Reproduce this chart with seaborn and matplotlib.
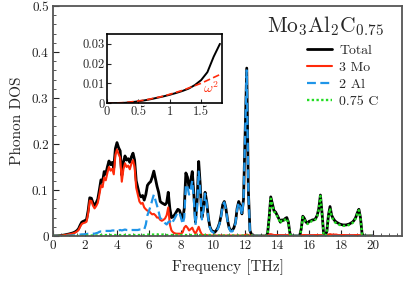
import numpy as np
import matplotlib
matplotlib.use("Agg")
import matplotlib.pyplot as plt
import seaborn as sns
from matplotlib.ticker import MultipleLocator, FixedLocator

# ---------------- data ----------------
freq = np.round(np.arange(0, 201) * 0.1, 1)  # THz grid

total = [
    0, 0.00002, 0.0001, 0.0003, 0.0006, 0.0010, 0.0015, 0.0021, 0.0028, 0.0035,
    0.0043, 0.0052, 0.0062, 0.0074, 0.0092, 0.0117, 0.0157, 0.0235, 0.0300, 0.0320,
    0.0335, 0.036, 0.055, 0.083, 0.082, 0.072, 0.066, 0.072, 0.080, 0.100,
    0.122, 0.118, 0.140, 0.134, 0.150, 0.163, 0.155, 0.160, 0.148, 0.190,
    0.203, 0.192, 0.185, 0.132, 0.160, 0.174, 0.165, 0.168, 0.160, 0.172,
    0.180, 0.165, 0.120, 0.105, 0.090, 0.085, 0.088, 0.078, 0.090, 0.110,
    0.115, 0.118, 0.128, 0.141, 0.125, 0.108, 0.095, 0.075, 0.072, 0.070,
    0.068, 0.072, 0.095, 0.060, 0.040, 0.042, 0.046, 0.052, 0.058, 0.056,
    0.045, 0.035, 0.060, 0.137, 0.128, 0.105, 0.120, 0.140, 0.090, 0.030,
    0.075, 0.162, 0.110, 0.040, 0.060, 0.095, 0.075, 0.040, 0.020, 0.012,
    0.010, 0.008, 0.012, 0.018, 0.028, 0.045, 0.068, 0.075, 0.060, 0.035,
    0.018, 0.012, 0.012, 0.018, 0.030, 0.060, 0.075, 0.065, 0.048, 0.080,
    0.225, 0.365, 0.100, 0.012, 0.003, 0.001, 0, 0, 0, 0,
    0, 0, 0, 0, 0.005, 0.040, 0.085, 0.070, 0.055, 0.052,
    0.045, 0.038, 0.030, 0.035, 0.034, 0.038, 0.040, 0.030, 0.005, 0,
    0, 0, 0, 0, 0, 0.015, 0.043, 0.038, 0.030, 0.028,
    0.032, 0.033, 0.035, 0.035, 0.038, 0.045, 0.060, 0.089, 0.050, 0.005,
    0, 0.010, 0.045, 0.064, 0.045, 0.038, 0.033, 0.030, 0.028, 0.026,
    0.025, 0.024, 0.024, 0.024, 0.025, 0.026, 0.028, 0.030, 0.034, 0.040,
    0.050, 0.058, 0.040, 0.005, 0, 0, 0, 0, 0, 0,
    0,
]

mo3 = [
    0, 0.00002, 0.0001, 0.0002, 0.0005, 0.0008, 0.0012, 0.0017, 0.0023, 0.0029,
    0.0036, 0.0043, 0.0051, 0.0061, 0.0076, 0.0097, 0.0130, 0.0200, 0.0260, 0.0280,
    0.029, 0.031, 0.049, 0.077, 0.076, 0.066, 0.060, 0.065, 0.072, 0.090,
    0.110, 0.106, 0.127, 0.121, 0.137, 0.150, 0.142, 0.146, 0.134, 0.176,
    0.188, 0.178, 0.170, 0.118, 0.145, 0.158, 0.150, 0.153, 0.145, 0.157,
    0.165, 0.150, 0.105, 0.090, 0.075, 0.070, 0.072, 0.062, 0.058, 0.055,
    0.054, 0.050, 0.047, 0.048, 0.045, 0.040, 0.040, 0.035, 0.033, 0.035,
    0.038, 0.045, 0.062, 0.025, 0.012, 0.008, 0.006, 0.005, 0.005, 0.005,
    0.005, 0.008, 0.018, 0.022, 0.018, 0.012, 0.015, 0.018, 0.010, 0.005,
    0.012, 0.020, 0.010, 0.003, 0.002, 0.002, 0.002, 0.001, 0.001, 0.001,
    0.001, 0.001, 0.001, 0.001, 0.001, 0.001, 0.001, 0.001, 0.001, 0.001,
    0.001, 0.001, 0.001, 0.001, 0.001, 0.001, 0.001, 0.001, 0.001, 0.001,
    0.002, 0.003, 0.002, 0.001, 0.001, 0.001, 0, 0, 0, 0,
    0, 0, 0, 0, 0.001, 0.003, 0.004, 0.003, 0.002, 0.002,
    0.002, 0.002, 0.002, 0.002, 0.002, 0.002, 0.002, 0.002, 0.001, 0,
    0, 0, 0, 0, 0, 0.001, 0.002, 0.002, 0.002, 0.002,
    0.002, 0.002, 0.002, 0.002, 0.002, 0.002, 0.002, 0.002, 0.002, 0.001,
    0, 0.001, 0.003, 0.004, 0.003, 0.003, 0.003, 0.003, 0.002, 0.002,
    0.002, 0.002, 0.002, 0.002, 0.002, 0.002, 0.002, 0.002, 0.002, 0.002,
    0.002, 0.002, 0.002, 0.001, 0, 0, 0, 0, 0, 0,
    0,
]

al2 = [
    0, 0, 0, 0.00005, 0.0001, 0.0001, 0.0002, 0.0003, 0.0004, 0.0005,
    0.0006, 0.0008, 0.0010, 0.0012, 0.0014, 0.0017, 0.0022, 0.0030, 0.0035, 0.0035,
    0.004, 0.004, 0.005, 0.005, 0.005, 0.005, 0.005, 0.006, 0.007, 0.009,
    0.010, 0.010, 0.011, 0.011, 0.011, 0.011, 0.011, 0.012, 0.012, 0.012,
    0.013, 0.012, 0.013, 0.012, 0.013, 0.014, 0.013, 0.013, 0.012, 0.013,
    0.013, 0.013, 0.013, 0.013, 0.014, 0.014, 0.014, 0.014, 0.025, 0.045,
    0.055, 0.065, 0.078, 0.090, 0.078, 0.066, 0.053, 0.038, 0.037, 0.033,
    0.028, 0.025, 0.030, 0.032, 0.026, 0.032, 0.038, 0.045, 0.052, 0.050,
    0.039, 0.026, 0.040, 0.112, 0.107, 0.090, 0.102, 0.120, 0.078, 0.024,
    0.060, 0.140, 0.098, 0.036, 0.057, 0.092, 0.072, 0.038, 0.018, 0.010,
    0.008, 0.006, 0.010, 0.016, 0.026, 0.043, 0.066, 0.073, 0.058, 0.033,
    0.016, 0.010, 0.010, 0.016, 0.028, 0.058, 0.073, 0.063, 0.046, 0.077,
    0.220, 0.360, 0.097, 0.010, 0.002, 0.0005, 0, 0, 0, 0,
    0, 0, 0, 0, 0, 0, 0, 0, 0, 0,
    0, 0, 0, 0, 0, 0, 0, 0, 0, 0,
    0, 0, 0, 0, 0, 0, 0, 0, 0, 0,
    0, 0, 0, 0, 0, 0, 0, 0, 0, 0,
    0, 0, 0, 0, 0, 0, 0, 0, 0, 0,
    0, 0, 0, 0, 0, 0, 0, 0, 0, 0,
    0, 0, 0, 0, 0, 0, 0, 0, 0, 0,
    0,
]

c075 = [
    0, 0, 0, 0, 0, 0, 0, 0, 0, 0,
    0, 0, 0, 0, 0, 0, 0, 0, 0, 0,
    0.001, 0.001, 0.001, 0.001, 0.001, 0.001, 0.001, 0.001, 0.001, 0.001,
    0.002, 0.002, 0.002, 0.002, 0.002, 0.002, 0.002, 0.002, 0.002, 0.002,
    0.002, 0.002, 0.002, 0.002, 0.002, 0.002, 0.002, 0.002, 0.002, 0.002,
    0.002, 0.002, 0.002, 0.002, 0.002, 0.002, 0.002, 0.002, 0.003, 0.003,
    0.003, 0.003, 0.003, 0.003, 0.003, 0.003, 0.003, 0.003, 0.003, 0.003,
    0.002, 0.002, 0.002, 0.002, 0.002, 0.002, 0.002, 0.002, 0.002, 0.002,
    0.002, 0.002, 0.002, 0.002, 0.002, 0.002, 0.002, 0.002, 0.002, 0.002,
    0.002, 0.002, 0.002, 0.002, 0.002, 0.002, 0.002, 0.002, 0.002, 0.002,
    0.001, 0.001, 0.001, 0.001, 0.001, 0.001, 0.001, 0.001, 0.001, 0.001,
    0.001, 0.001, 0.001, 0.001, 0.001, 0.001, 0.001, 0.001, 0.001, 0.001,
    0.001, 0.001, 0.001, 0.001, 0.001, 0, 0, 0, 0, 0,
    0, 0, 0, 0, 0.004, 0.037, 0.081, 0.067, 0.053, 0.050,
    0.043, 0.036, 0.028, 0.033, 0.032, 0.036, 0.038, 0.028, 0.004, 0,
    0, 0, 0, 0, 0, 0.014, 0.041, 0.036, 0.028, 0.026,
    0.030, 0.031, 0.033, 0.033, 0.036, 0.043, 0.058, 0.087, 0.048, 0.004,
    0, 0.009, 0.042, 0.060, 0.042, 0.035, 0.030, 0.027, 0.026, 0.024,
    0.023, 0.022, 0.022, 0.022, 0.023, 0.024, 0.026, 0.028, 0.032, 0.038,
    0.048, 0.056, 0.038, 0.004, 0, 0, 0, 0, 0, 0,
    0,
]

# omega^2 fit line in the inset
fit_freq = [0, 0.3, 0.6, 0.9, 1.2, 1.5, 1.8]
fit_dos = [0, 0.0004, 0.0016, 0.0036, 0.0065, 0.0101, 0.0145]

x_ticks = [0, 2, 4, 6, 8, 10, 12, 14, 16, 18, 20]
y_ticks = [0, 0.1, 0.2, 0.3, 0.4, 0.5]
y_tick_labels = ["0", "0.1", "0.2", "0.3", "0.4", "0.5"]
inset_x_ticks = [0, 0.5, 1, 1.5]
inset_x_labels = ["0", "0.5", "1", "1.5"]
inset_y_ticks = [0, 0.01, 0.02, 0.03]
inset_y_labels = ["0", "0.01", "0.02", "0.03"]

# ---------------- style ----------------
sns.set_theme(style="ticks")
plt.rcParams["font.family"] = ["cmr10", "DejaVu Serif"]
plt.rcParams["mathtext.fontset"] = "cm"
plt.rcParams["axes.unicode_minus"] = False
plt.rcParams["xtick.direction"] = "in"
plt.rcParams["ytick.direction"] = "in"

C_TOT = "#000000"
C_MO = "#ff2a0a"
C_AL = "#1f95e8"
C_C = "#22dd22"

fig = plt.figure(figsize=(4.07, 2.85), dpi=100)
ax = fig.add_axes([0.130, 0.172, 0.858, 0.807])

sns.lineplot(x=freq, y=total, ax=ax, color=C_TOT, lw=2.0, label="Total")
sns.lineplot(x=freq, y=mo3, ax=ax, color=C_MO, lw=1.5, label="3 Mo")
sns.lineplot(x=freq, y=al2, ax=ax, color=C_AL, lw=1.6, linestyle=(0, (4, 2)), label="2 Al")
sns.lineplot(x=freq, y=c075, ax=ax, color=C_C, lw=1.7, linestyle=(0, (1, 1)), label="0.75 C")

ax.set_xlim(0, 21.8)
ax.set_ylim(0, 0.5)
ax.xaxis.set_major_locator(FixedLocator(x_ticks))
ax.xaxis.set_minor_locator(MultipleLocator(0.5))
ax.yaxis.set_major_locator(FixedLocator(y_ticks))
ax.yaxis.set_minor_locator(MultipleLocator(0.02))
ax.set_yticklabels(y_tick_labels)
ax.set_xticklabels([str(t) for t in x_ticks])
ax.tick_params(axis="both", which="major", length=4, width=0.8, labelsize=9.5, pad=3, colors="#222222")
ax.tick_params(axis="both", which="minor", length=2.5, width=0.7, colors="#555555")
for s in ax.spines.values():
    s.set_color("#555555")
    s.set_linewidth(1.3)
ax.set_xlabel("Frequency [THz]", fontsize=11, labelpad=5)
ax.set_ylabel("Phonon DOS", fontsize=11, labelpad=6)

ax.text(0.948, 0.965, r"$\mathrm{Mo_3Al_2C_{0.75}}$", transform=ax.transAxes,
        ha="right", va="top", fontsize=15.5)

leg = ax.legend(loc="upper right", bbox_to_anchor=(0.96, 0.875), frameon=False,
                fontsize=10, handlelength=1.8, handletextpad=0.5, labelspacing=0.3,
                borderpad=0.2)

# ---------------- inset ----------------
ins = fig.add_axes([0.263, 0.6375, 0.282, 0.2435])
mask = freq <= 1.85
sns.lineplot(x=freq[mask], y=np.array(total)[mask], ax=ins, color=C_TOT, lw=1.4, legend=False)
sns.lineplot(x=fit_freq, y=fit_dos, ax=ins, color=C_MO, lw=1.2, linestyle=(0, (4, 2)), legend=False)
ins.set_xlim(0, 1.83)
ins.set_ylim(0, 0.035)
ins.xaxis.set_major_locator(FixedLocator(inset_x_ticks))
ins.yaxis.set_major_locator(FixedLocator(inset_y_ticks))
ins.set_xticklabels(inset_x_labels)
ins.set_yticklabels(inset_y_labels)
ins.tick_params(axis="both", which="major", length=3, width=0.8, labelsize=9, pad=2)
for s in ins.spines.values():
    s.set_color("black")
    s.set_linewidth(1.2)
ins.text(1.53, 0.0052, r"$\omega^2$", color=C_MO, fontsize=10)

fig.savefig("out.png", dpi=100)
